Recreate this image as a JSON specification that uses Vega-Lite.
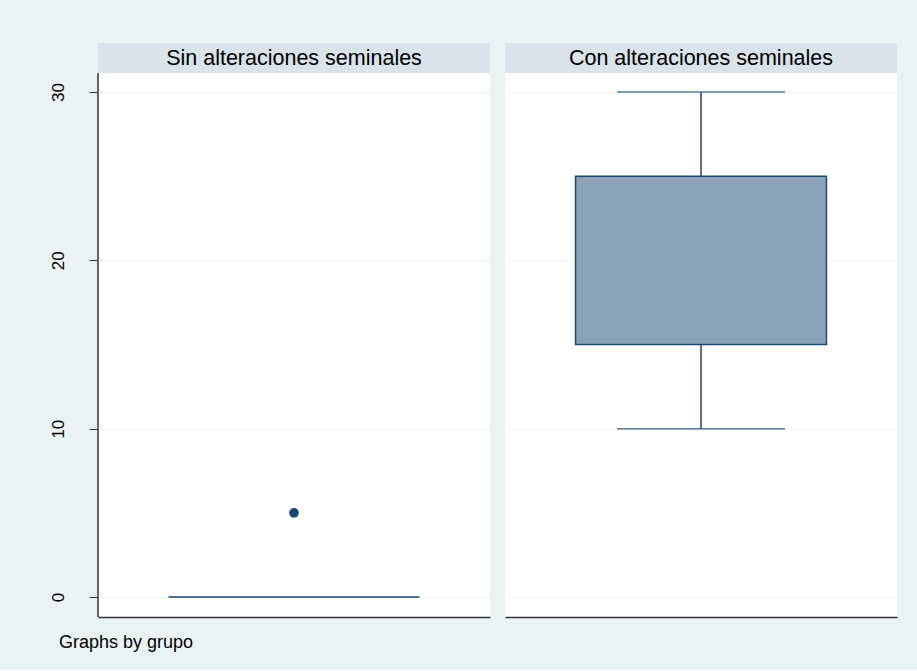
{
  "$schema": "https://vega.github.io/schema/vega-lite/v6.json",
  "autosize": {"type": "pad"},
  "padding": {"left": 48, "top": 43, "right": 20, "bottom": 18},
  "background": "#EAF2F3",
  "config": {
    "font": "Liberation Sans",
    "view": {"stroke": null, "fill": "white"},
    "axis": {"labelFont": "Liberation Sans", "labelColor": "#000"}
  },
  "title": {
    "text": "Graphs by grupo",
    "orient": "bottom",
    "anchor": "start",
    "frame": "group",
    "fontSize": 18,
    "fontWeight": "normal",
    "color": "#000",
    "dx": -39,
    "offset": 16
  },
  "data": {
    "values": [
      {"grupo": "Sin alteraciones seminales", "lo": 0, "q1": 0, "med": 0, "q3": 0, "hi": 0},
      {"grupo": "Con alteraciones seminales", "lo": 10, "q1": 15, "med": 15, "q3": 25, "hi": 30},
      {"grupo": "Sin alteraciones seminales", "out": 5}
    ]
  },
  "facet": {
    "column": {
      "field": "grupo",
      "type": "nominal",
      "sort": ["Sin alteraciones seminales", "Con alteraciones seminales"],
      "header": {"labels": false, "title": null}
    }
  },
  "spacing": {"column": 15},
  "resolve": {"scale": {"x": "independent"}, "axis": {"x": "independent"}},
  "spec": {
    "width": 392,
    "height": 574,
    "encoding": {
      "y": {
        "type": "quantitative",
        "scale": {"domain": [-1.188, 32.91], "nice": false, "zero": false},
        "axis": {
          "title": null,
          "values": [0, 10, 20, 30],
          "labelAngle": -90,
          "labelFontSize": 17,
          "labelPadding": 22,
          "tickSize": 8,
          "tickColor": "#333",
          "domain": false,
          "gridColor": "#EAF2F3",
          "grid": true
        }
      }
    },
    "layer": [
      {
        "transform": [{"filter": "isValid(datum.q1)"}],
        "mark": {"type": "bar", "color": "#D8E4EA", "width": {"band": 1}},
        "encoding": {
          "x": {"field": "grupo", "type": "nominal", "scale": {"paddingInner": 0, "paddingOuter": 0}, "axis": {"title": null, "labels": false, "ticks": false, "grid": false, "domainColor": "#333", "domainWidth": 1.5}},
          "y": {"datum": 31.13, "type": "quantitative"},
          "y2": {"datum": 32.91}
        }
      },
      {
        "transform": [{"filter": "isValid(datum.q1) && datum.grupo == 'Sin alteraciones seminales'"}],
        "mark": {"type": "rule", "color": "#333", "strokeWidth": 1.5},
        "encoding": {
          "x": {"field": "grupo", "type": "nominal", "bandPosition": 0},
          "y": {"datum": -1.188, "type": "quantitative"},
          "y2": {"datum": 31.13}
        }
      },
      {
        "transform": [{"filter": "isValid(datum.q1)"}],
        "mark": {"type": "rule", "color": "#1A476F", "strokeWidth": 1.5},
        "encoding": {
          "x": {"field": "grupo", "type": "nominal"},
          "y": {"field": "lo", "type": "quantitative"},
          "y2": {"field": "q1"}
        }
      },
      {
        "transform": [{"filter": "isValid(datum.q1)"}],
        "mark": {"type": "rule", "color": "#1A476F", "strokeWidth": 1.5},
        "encoding": {
          "x": {"field": "grupo", "type": "nominal"},
          "y": {"field": "q3", "type": "quantitative"},
          "y2": {"field": "hi"}
        }
      },
      {
        "transform": [{"filter": "isValid(datum.q1) && datum.lo < datum.q1"}],
        "mark": {"type": "tick", "color": "#1A476F", "size": 168, "thickness": 1.5, "orient": "horizontal"},
        "encoding": {
          "x": {"field": "grupo", "type": "nominal"},
          "y": {"field": "lo", "type": "quantitative"}
        }
      },
      {
        "transform": [{"filter": "isValid(datum.q1) && datum.hi > datum.q3"}],
        "mark": {"type": "tick", "color": "#1A476F", "size": 168, "thickness": 1.5, "orient": "horizontal"},
        "encoding": {
          "x": {"field": "grupo", "type": "nominal"},
          "y": {"field": "hi", "type": "quantitative"}
        }
      },
      {
        "transform": [{"filter": "isValid(datum.q1)"}],
        "mark": {"type": "bar", "fill": "#8CA2B7", "stroke": "#1A476F", "strokeWidth": 1.5, "width": {"band": 0.64}},
        "encoding": {
          "x": {"field": "grupo", "type": "nominal"},
          "y": {"field": "q1", "type": "quantitative"},
          "y2": {"field": "q3"}
        }
      },
      {
        "transform": [{"filter": "isValid(datum.out)"}],
        "mark": {"type": "point", "filled": true, "color": "#1A476F", "size": 95, "opacity": 1},
        "encoding": {
          "x": {"field": "grupo", "type": "nominal"},
          "y": {"field": "out", "type": "quantitative"}
        }
      },
      {
        "transform": [{"filter": "isValid(datum.q1)"}],
        "mark": {"type": "text", "fontSize": 21.5, "color": "#000", "baseline": "middle", "align": "center", "dy": 1},
        "encoding": {
          "y": {"datum": 32.02, "type": "quantitative"},
          "text": {"field": "grupo"}
        }
      }
    ]
  }
}
